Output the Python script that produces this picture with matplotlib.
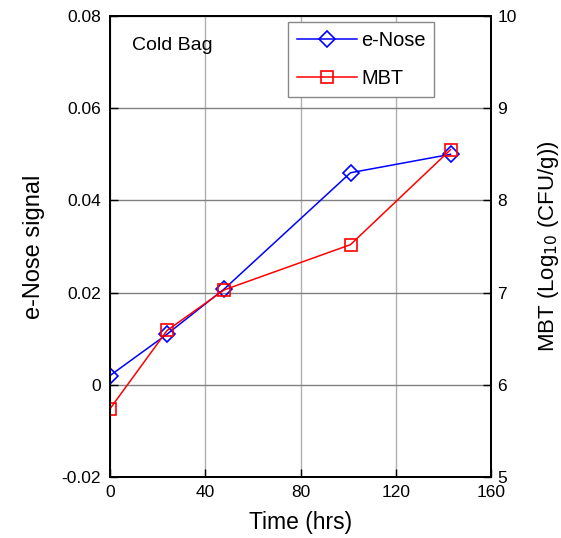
import matplotlib
matplotlib.use("Agg")
import matplotlib.pyplot as plt

plt.rcParams["font.family"] = ["Liberation Sans", "DejaVu Sans"]

# data
hours = [0, 24, 48, 101, 143]
enose = [0.002, 0.011, 0.0208, 0.046, 0.050]
mbt = [5.74, 6.59, 7.03, 7.52, 8.55]

fig = plt.figure(figsize=(5.61, 5.38), dpi=100)
ax = fig.add_axes([110 / 561, 1 - 477 / 538, 381 / 561, 461 / 538])
ax2 = ax.twinx()

l1, = ax.plot(hours, enose, color="blue", lw=1.1, marker="D", ms=8.5,
              mfc="none", mec="blue", mew=1.2, label="e-Nose")
l2, = ax2.plot(hours, mbt, color="red", lw=1.1, marker="s", ms=8.8,
               mfc="none", mec="red", mew=1.2, label="MBT")

ax.set_xlim(0, 160)
ax.set_ylim(-0.02, 0.08)
ax2.set_ylim(5, 10)
ax.set_xticks([0, 40, 80, 120, 160])
ax.set_yticks([-0.02, 0, 0.02, 0.04, 0.06, 0.08])
ax.set_yticklabels(["-0.02", "0", "0.02", "0.04", "0.06", "0.08"])
ax2.set_yticks([5, 6, 7, 8, 9, 10])

ax.grid(True, axis="x", color="#b0b0b0", lw=1)
ax.grid(True, axis="y", color="#808080", lw=1)
ax.set_axisbelow(True)
ax.tick_params(axis="x", direction="in", length=6, width=1, labelsize=12.5, pad=5.5)
ax.tick_params(axis="y", direction="in", length=6, width=1, labelsize=12.5, pad=6.5)
ax2.tick_params(axis="y", direction="in", length=6, width=1, labelsize=12.5, pad=4.5)
for a in (ax, ax2):
    for s in a.spines.values():
        s.set_linewidth(1.3)

ax.set_xlabel("Time (hrs)", fontsize=16.5, labelpad=8)
ax.set_ylabel("e-Nose signal", fontsize=17, labelpad=12)
ax2.set_ylabel("MBT (Log$_{10}$ (CFU/g))", fontsize=16, labelpad=14)

ax.text(0.058, 0.937, "Cold Bag", transform=ax.transAxes, fontsize=14,
        va="center", ha="left")

leg = ax2.legend(handles=[l1, l2], loc="upper left",
                 bbox_to_anchor=(178 / 381, 0.987), borderaxespad=0,
                 fontsize=14.4, fancybox=False, framealpha=1,
                 edgecolor="#888888", handlelength=3.0, labelspacing=0.95,
                 borderpad=0.45, handletextpad=0.2)
leg.get_frame().set_linewidth(1)

fig.savefig("out.png", dpi=100)
